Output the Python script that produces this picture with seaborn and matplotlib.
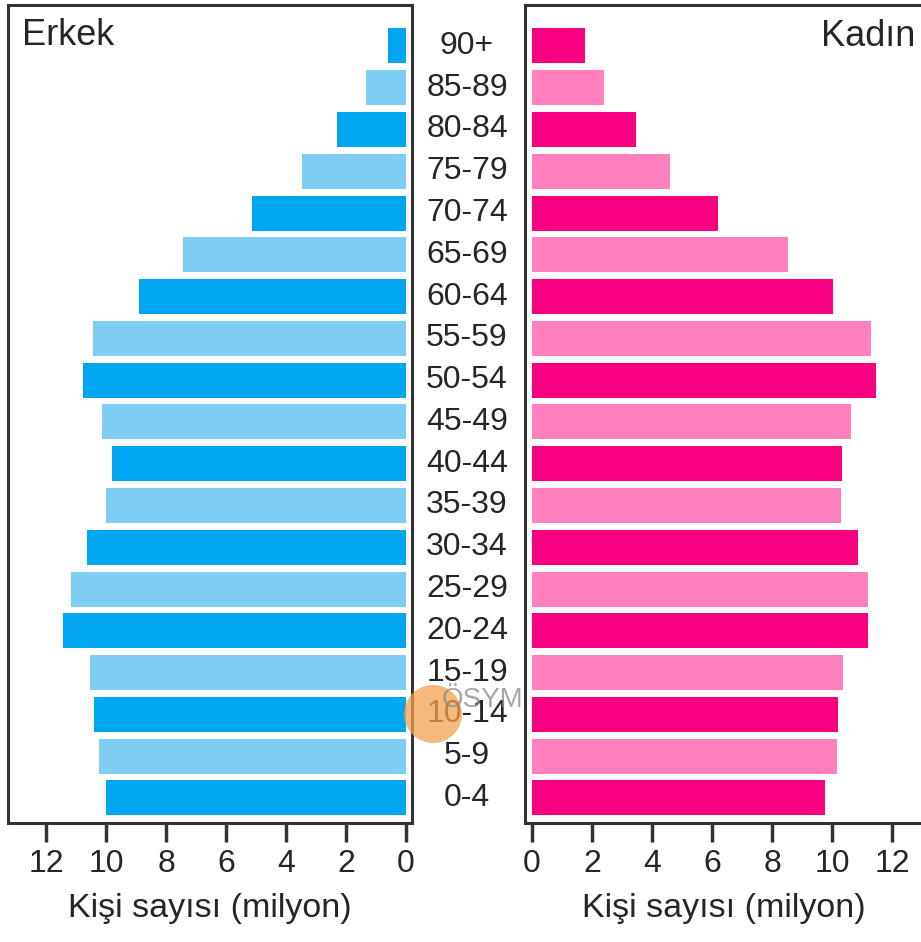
import matplotlib
matplotlib.use("Agg")
import matplotlib.pyplot as plt
from matplotlib.patches import Ellipse
import seaborn as sns
import pandas as pd

age_groups = ["90+", "85-89", "80-84", "75-79", "70-74", "65-69", "60-64", "55-59",
              "50-54", "45-49", "40-44", "35-39", "30-34", "25-29", "20-24", "15-19",
              "10-14", "5-9", "0-4"]
male = [0.6, 1.33, 2.3, 3.47, 5.15, 7.45, 8.9, 10.43, 10.77, 10.13, 9.8, 10.0,
        10.63, 11.17, 11.45, 10.53, 10.4, 10.23, 10.0]
female = [1.77, 2.4, 3.47, 4.6, 6.2, 8.53, 10.03, 11.3, 11.45, 10.63, 10.32, 10.3,
          10.85, 11.2, 11.2, 10.37, 10.2, 10.15, 9.78]
ticks = [0, 2, 4, 6, 8, 10, 12]
title_male = "Erkek"
title_female = "Kadın"
xlabel = "Kişi sayısı (milyon)"

blue_dark, blue_light = "#00A6F0", "#80CDF4"
pink_dark, pink_light = "#FA0080", "#FF80BE"
blue_pal = [blue_dark if i % 2 == 0 else blue_light for i in range(len(age_groups))]
pink_pal = [pink_dark if i % 2 == 0 else pink_light for i in range(len(age_groups))]

df = pd.DataFrame({"age": age_groups, "male": male, "female": female})

sns.set_style("white")
plt.rcParams["font.family"] = ["Liberation Sans", "DejaVu Sans"]
text_color = "#262626"
spine_color = "#333333"

fig = plt.figure(figsize=(9.21, 9.42), dpi=100)
W, H = 921, 942
ax_l = fig.add_axes([8 / W, 1 - 823 / H, (412 - 8) / W, (823 - 5) / H])
ax_r = fig.add_axes([525 / W, 1 - 823 / H, (923 - 525) / W, (823 - 5) / H])

sns.barplot(data=df, x="male", y="age", hue="age", palette=blue_pal, order=age_groups,
            hue_order=age_groups, width=0.84, dodge=False, legend=False, ax=ax_l,
            saturation=1, edgecolor="none", linewidth=0)
sns.barplot(data=df, x="female", y="age", hue="age", palette=pink_pal, order=age_groups,
            hue_order=age_groups, width=0.84, dodge=False, legend=False, ax=ax_r,
            saturation=1, edgecolor="none", linewidth=0)

ax_l.set_xlim(13.27, -0.2)
ax_r.set_xlim(-0.233, 13.03)
for ax in (ax_l, ax_r):
    ax.set_ylim(18.6, -0.98)
    ax.set_yticks([])
    ax.set_ylabel("")
    ax.set_xticks(ticks)
    ax.set_xticklabels([str(t) for t in ticks])
    ax.tick_params(axis="x", direction="out", length=14, width=2.5, color=spine_color,
                   labelsize=23, labelcolor=text_color, pad=5, bottom=True)
    ax.set_xlabel(xlabel, fontsize=24.5, color=text_color, labelpad=10)
    for s in ax.spines.values():
        s.set_visible(True)
        s.set_color(spine_color)
        s.set_linewidth(2.2)
    ax.set_facecolor("white")

ax_l.text(0.035, 0.963, title_male, transform=ax_l.transAxes, ha="left", va="center",
          fontsize=26, color=text_color)
fig.text(915 / W, 1 - 36 / H, title_female, ha="right", va="center",
         fontsize=26, color=text_color)

xc = (467 - 525) / (923 - 525)
for i, lab in enumerate(age_groups):
    ax_r.text(xc, i, lab, transform=ax_r.get_yaxis_transform(), ha="center",
              va="center", fontsize=23, color=text_color, clip_on=False)

# watermark
fig.add_artist(Ellipse((433 / W, 1 - 714 / H), 58 / W, 58 / H, transform=fig.transFigure,
                       facecolor="#F5A04F", edgecolor="none", alpha=0.75, zorder=10))
fig.text(482 / W, 1 - 700 / H, "ÖSYM", ha="center", va="center", fontsize=20,
         color="#8a8a8a", alpha=0.75, zorder=11)

fig.savefig("out.png", dpi=100, facecolor="white")
